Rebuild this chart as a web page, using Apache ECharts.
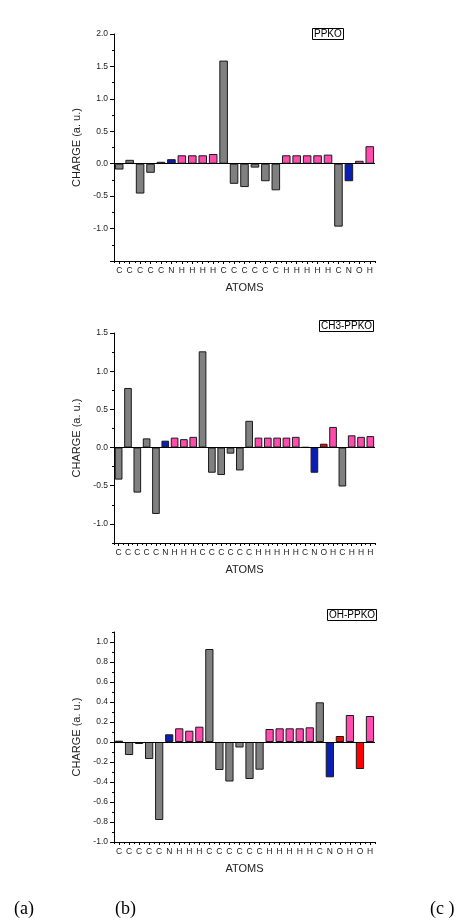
<!DOCTYPE html>
<html>
<head>
<meta charset="utf-8">
<script src="https://cdn.jsdelivr.net/npm/echarts@6/dist/echarts.min.js"></script>
<style>
html,body{margin:0;padding:0;background:#fff;}
#chart{width:466px;height:924px;}
</style>
</head>
<body>
<div id="chart"></div>
<script>
// ---------- DATA ----------
const atomsPPKO = ['C','C','C','C','C','N','H','H','H','H','C','C','C','C','C','C','H','H','H','H','H','C','N','O','H'];
const chargePPKO = [-0.09, 0.06, -0.46, -0.14, 0.03, 0.07, 0.13, 0.13, 0.13, 0.15, 1.59, -0.31, -0.36, -0.06, -0.27, -0.41, 0.13, 0.13, 0.13, 0.13, 0.14, -0.97, -0.27, 0.045, 0.27];

const atomsCH3 = ['C','C','C','C','C','N','H','H','H','C','C','C','C','C','C','H','H','H','H','H','C','N','O','H','C','H','H','H'];
const chargeCH3 = [-0.42, 0.78, -0.59, 0.12, -0.87, 0.09, 0.13, 0.11, 0.14, 1.26, -0.33, -0.36, -0.08, -0.30, 0.35, 0.13, 0.13, 0.13, 0.13, 0.14, 0.005, -0.33, 0.05, 0.27, -0.51, 0.16, 0.14, 0.15];

const atomsOH = ['C','C','C','C','C','N','H','H','H','C','C','C','C','C','C','H','H','H','H','H','C','N','O','H','O','H'];
const chargeOH = [0.013, -0.13, -0.02, -0.17, -0.78, 0.077, 0.137, 0.113, 0.153, 0.93, -0.28, -0.395, -0.055, -0.37, -0.277, 0.13, 0.137, 0.137, 0.137, 0.147, 0.397, -0.353, 0.06, 0.27, -0.27, 0.26];

const yTicksPPKO = [-1.5, -1.0, -0.5, 0.0, 0.5, 1.0, 1.5, 2.0];
const yTicksCH3 = [-1.0, -0.5, 0.0, 0.5, 1.0, 1.5];
const yTicksOH = [-1.0, -0.8, -0.6, -0.4, -0.2, 0.0, 0.2, 0.4, 0.6, 0.8, 1.0];
const yLabelsPPKO = [-1.0, -0.5, 0.0, 0.5, 1.0, 1.5, 2.0];

const titles = ['PPKO', 'CH3-PPKO', 'OH-PPKO'];
const panelLetters = ['(a)', '(b)', '(c )'];

// ---------- STYLE ----------
const elementColors = { C: '#808080', N: '#0A1DB5', O: '#FF0000', H: '#FF4AAE' };
const FONT = '"Liberation Sans", Arial, sans-serif';

const panels = [
  { atoms: atomsPPKO, values: chargePPKO, ticks: yTicksPPKO, labels: yLabelsPPKO, min: -1.5, max: 2.0, minor: 0.25,
    top: 34, height: 227, title: titles[0], titleLeft: 312, titleTop: 28, override: { O: '#FF4AAE' } },
  { atoms: atomsCH3, values: chargeCH3, ticks: yTicksCH3, labels: yTicksCH3, min: -1.25, max: 1.5, minor: 0.25,
    top: 333, height: 210, title: titles[1], titleLeft: 319, titleTop: 320, override: {} },
  { atoms: atomsOH, values: chargeOH, ticks: yTicksOH, labels: yTicksOH, min: -1.0, max: 1.1, minor: 0.1,
    top: 632, height: 210, title: titles[2], titleLeft: 327, titleTop: 609, override: {} }
];

const grid = [], xAxis = [], yAxis = [], series = [], title = [];
panels.forEach((p, k) => {
  grid.push({ left: 114, right: 91, top: p.top, height: p.height, containLabel: false });
  xAxis.push({
    type: 'category', gridIndex: k, data: p.atoms, position: 'bottom',
    name: 'ATOMS', nameLocation: 'middle', nameGap: 21,
    nameTextStyle: { fontFamily: FONT, fontSize: 11, color: '#222' },
    axisLine: { show: true, onZero: false, lineStyle: { color: '#000', width: 1 } },
    axisTick: { show: true, alignWithLabel: true, interval: 0, length: 3, lineStyle: { color: '#000' } },
    axisLabel: { interval: 0, fontFamily: FONT, fontSize: 8.5, color: '#222', margin: 5 },
    splitLine: { show: false }
  });
  xAxis.push({
    type: 'category', gridIndex: k, data: p.atoms, position: 'bottom',
    axisLine: { show: false, onZero: false },
    axisTick: { show: true, alignWithLabel: false, interval: 0, length: 2, lineStyle: { color: '#000' } },
    axisLabel: { show: false }, splitLine: { show: false }
  });
  yAxis.push({
    type: 'value', gridIndex: k, min: p.min, max: p.max, interval: p.minor, position: 'left',
    name: 'CHARGE (a. u.)', nameLocation: 'middle', nameGap: 29,
    nameTextStyle: { fontFamily: FONT, fontSize: 11, color: '#222' },
    axisLine: { show: true, onZero: false, lineStyle: { color: '#000', width: 1 } },
    axisTick: { show: true, length: 2, lineStyle: { color: '#000' } },
    axisLabel: {
      fontFamily: FONT, fontSize: 8.5, color: '#222', margin: 6,
      formatter: v => p.labels.some(t => Math.abs(t - v) < 1e-6) ? v.toFixed(1) : ''
    },
    splitLine: { show: false }
  });
  yAxis.push({
    type: 'value', gridIndex: k, min: p.min, max: p.max, position: 'left',
    axisLine: { show: false },
    axisTick: { show: true, length: 4, customValues: p.ticks, lineStyle: { color: '#000' } },
    axisLabel: { show: false, customValues: p.ticks },
    splitLine: { show: false }
  });
  series.push({
    type: 'bar', xAxisIndex: 2 * k, yAxisIndex: 2 * k, barCategoryGap: '18%',
    data: p.values.map((v, i) => ({
      value: v,
      itemStyle: { color: p.override[p.atoms[i]] || elementColors[p.atoms[i]] }
    })),
    itemStyle: { borderColor: '#1a1a1a', borderWidth: 1 },
    markLine: {
      silent: true, symbol: 'none', label: { show: false },
      lineStyle: { color: '#000', width: 1, type: 'solid' },
      data: [{ yAxis: 0 }]
    }
  });
  title.push({
    text: p.title, left: p.titleLeft, top: p.titleTop,
    borderWidth: 1, borderColor: '#000', padding: [1, 2, 1, 2],
    textStyle: { fontFamily: FONT, fontSize: 10, fontWeight: 'normal', color: '#000' }
  });
});

const serif = '18px "Liberation Serif", "Times New Roman", serif';
const graphic = [
  { type: 'text', left: 14, top: 900, style: { text: panelLetters[0], font: serif, fill: '#000' } },
  { type: 'text', left: 115, top: 900, style: { text: panelLetters[1], font: serif, fill: '#000' } },
  { type: 'text', left: 430, top: 900, style: { text: panelLetters[2], font: serif, fill: '#000' } }
];

const chart = echarts.init(document.getElementById('chart'), null, { renderer: 'canvas' });
chart.setOption({
  animation: false,
  backgroundColor: '#fff',
  title, grid, xAxis, yAxis, series, graphic
});
</script>
</body>
</html>
